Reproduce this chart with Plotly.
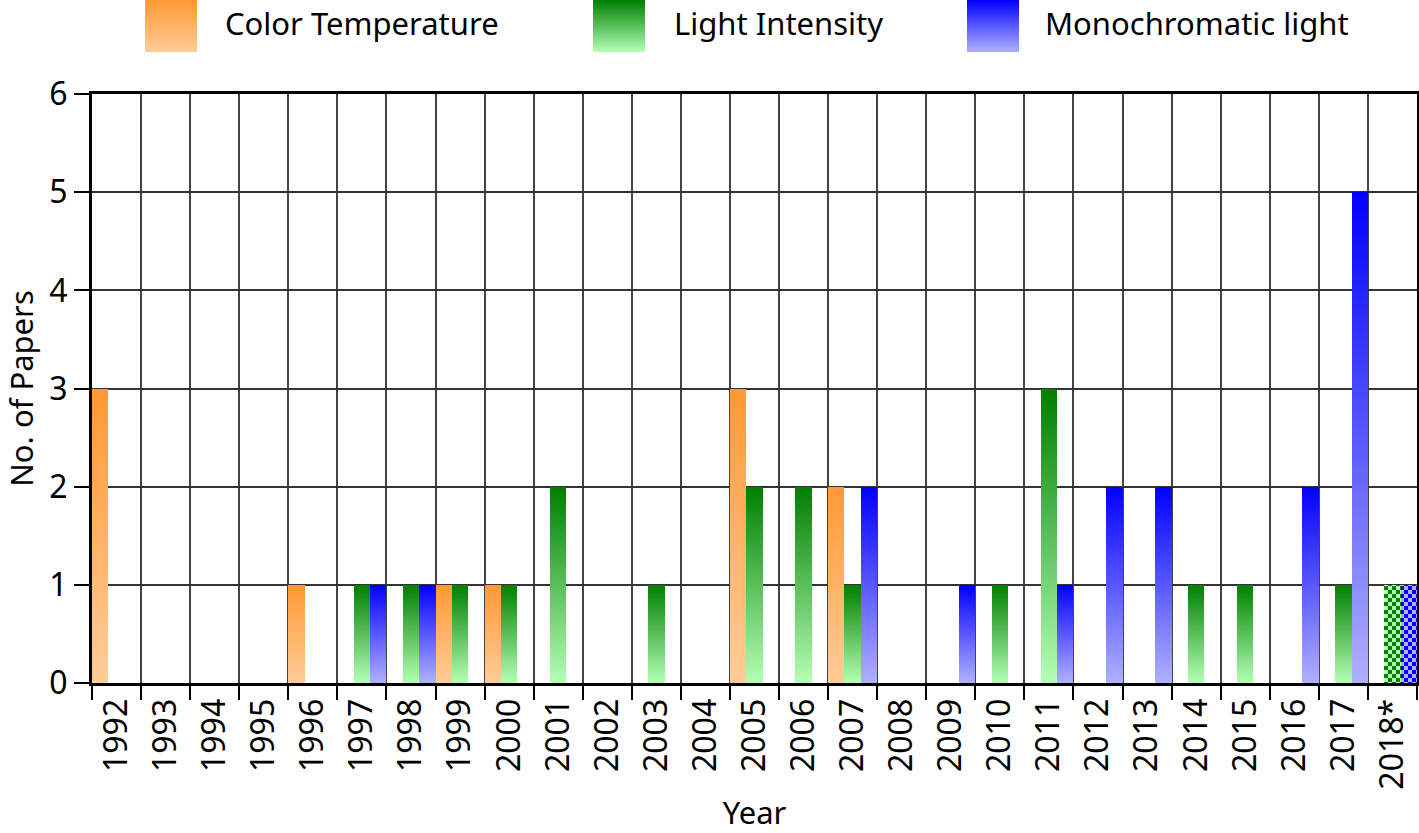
import plotly.graph_objects as go

# Data
years = ["1992", "1993", "1994", "1995", "1996", "1997", "1998", "1999", "2000",
         "2001", "2002", "2003", "2004", "2005", "2006", "2007", "2008", "2009",
         "2010", "2011", "2012", "2013", "2014", "2015", "2016", "2017", "2018*"]
color_temp = [3, 0, 0, 0, 1, 0, 0, 1, 1, 0, 0, 0, 0, 3, 0, 2, 0, 0, 0, 0, 0, 0, 0, 0, 0, 0, 0]
light_int = [0, 0, 0, 0, 0, 1, 1, 1, 1, 2, 0, 1, 0, 2, 2, 1, 0, 0, 1, 3, 0, 0, 1, 1, 0, 1, 1]
mono = [0, 0, 0, 0, 0, 1, 1, 0, 0, 0, 0, 0, 0, 0, 0, 2, 0, 1, 0, 1, 2, 2, 0, 0, 2, 5, 1]
series_names = ["Color Temperature", "Light Intensity", "Monochromatic light"]

# gradient colours (top, bottom)
grads = [("#FF9933", "#FFCC99"), ("#007F00", "#B4FFB4"), ("#0000FF", "#B0B0FF")]

FONT = "Noto Sans"
W, H = 1419, 833
L, R, T, B = 92, 2, 94, 150
pw, ph = W - L - R, H - T - B


def px_x(px):
    return (px - L) / pw


def px_y(py):
    return 1 + (T - py) / ph


fig = go.Figure()
for name, vals, (top, bot) in zip(series_names, [color_temp, light_int, mono], grads):
    fig.add_trace(go.Bar(x=years, y=vals, name=name, marker=dict(color=top, line=dict(width=0)),
                         showlegend=False))

# legend swatches + labels
leg_left = [145, 593, 967]
leg_text = [223, 672, 1043]
for i, name in enumerate(series_names):
    fig.add_shape(type="rect", xref="paper", yref="paper",
                  x0=px_x(leg_left[i]), x1=px_x(leg_left[i] + 52),
                  y0=px_y(52), y1=px_y(0),
                  fillcolor=grads[i][0], line=dict(width=0))
    fig.add_annotation(text=name, xref="paper", yref="paper",
                       x=px_x(leg_text[i]), y=px_y(0), xanchor="left", yanchor="top",
                       showarrow=False, font=dict(family=FONT, size=31, color="black"))

fig.update_layout(
    width=W, height=H,
    margin=dict(l=L, r=R, t=T, b=B),
    barmode="group", bargap=0, bargroupgap=0,
    plot_bgcolor="white", paper_bgcolor="white",
    font=dict(family=FONT, size=32, color="black"),
)
fig.update_xaxes(
    type="category", tickson="boundaries", showgrid=True, gridcolor="#444", gridwidth=1.5,
    showline=True, linecolor="black", linewidth=3, mirror=True,
    ticks="outside", ticklen=14, tickwidth=2, tickcolor="black",
    tickangle=-90, tickfont=dict(size=32),
    title=dict(text="Year", font=dict(size=31), standoff=17),
    automargin=False,
)
fig.update_yaxes(
    range=[0, 6], dtick=1, showgrid=True, gridcolor="#333", gridwidth=1.5, zeroline=False,
    showline=True, linecolor="black", linewidth=3, mirror=True,
    ticks="outside", ticklen=15, tickwidth=2, tickcolor="black",
    tickfont=dict(size=32),
    title=dict(text="No. of Papers", font=dict(size=31), standoff=45),
    automargin=False,
)

stops = ",".join('["%s","%s"]' % g for g in grads)
js = """
document.body.style.margin = '0';
var gd = document.getElementById('{plot_id}');
var G = [%s];
var NS = 'http://www.w3.org/2000/svg';
function paint() {
  var svg = gd.querySelector('svg.main-svg');
  var defs = svg.querySelector('defs');
  if (!document.getElementById('grad0')) {
    G.forEach(function(c, i) {
      var lg = document.createElementNS(NS, 'linearGradient');
      lg.setAttribute('id', 'grad' + i);
      lg.setAttribute('x1', '0'); lg.setAttribute('y1', '0');
      lg.setAttribute('x2', '0'); lg.setAttribute('y2', '1');
      [[0, c[0]], [1, c[1]]].forEach(function(s) {
        var st = document.createElementNS(NS, 'stop');
        st.setAttribute('offset', s[0]);
        st.setAttribute('stop-color', s[1]);
        lg.appendChild(st);
      });
      defs.appendChild(lg);
      var pt = document.createElementNS(NS, 'pattern');
      pt.setAttribute('id', 'check' + i);
      pt.setAttribute('patternUnits', 'userSpaceOnUse');
      pt.setAttribute('width', '8'); pt.setAttribute('height', '8');
      [[0, 0, 8, c[1]], [0, 0, 4, c[0]], [4, 4, 4, c[0]]].forEach(function(r) {
        var rc = document.createElementNS(NS, 'rect');
        rc.setAttribute('x', r[0]); rc.setAttribute('y', r[1]);
        rc.setAttribute('width', r[2]); rc.setAttribute('height', r[2]);
        rc.setAttribute('fill', r[3]);
        pt.appendChild(rc);
      });
      defs.appendChild(pt);
    });
  }
  var last = %d;
  gd.querySelectorAll('g.barlayer g.trace.bars').forEach(function(t, i) {
    t.querySelectorAll('g.point').forEach(function(p, j) {
      var idx = (p.__data__ && p.__data__.i !== undefined) ? p.__data__.i : j;
      var path = p.querySelector('path');
      if (!path) return;
      path.style.fill = (idx === last) ? 'url(#check' + i + ')' : 'url(#grad' + i + ')';
    });
  });
  gd.querySelectorAll('g.shapelayer path').forEach(function(p, i) {
    if (i < G.length) p.style.fill = 'url(#grad' + i + ')';
  });
}
paint();
gd.on('plotly_afterplot', paint);
""" % (stops, len(years) - 1)

fig.write_html("out.html", post_script=js, config={"displayModeBar": False})
